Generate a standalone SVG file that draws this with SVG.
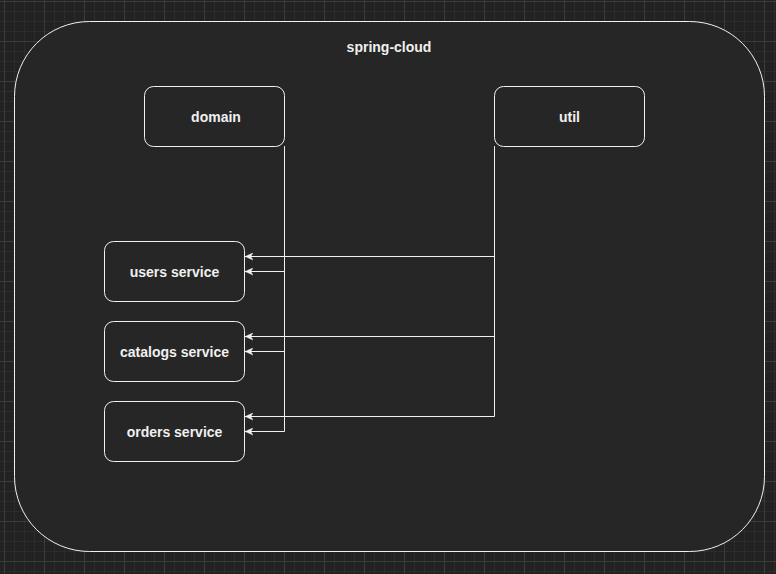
<svg xmlns="http://www.w3.org/2000/svg" width="776" height="574" viewBox="0 0 776 574">
<defs>
<pattern id="minor" x="4" y="1" width="10" height="10" patternUnits="userSpaceOnUse">
<path d="M0 0.5H10M0.5 0V10" fill="none" stroke="#2c2c2c" stroke-width="1"/>
</pattern>
<pattern id="major" x="4" y="1" width="40" height="40" patternUnits="userSpaceOnUse">
<path d="M0 0.5H40M0.5 0V40" fill="none" stroke="#3c3c3c" stroke-width="1"/>
</pattern>
<marker id="arr" viewBox="0 0 10 10" refX="10" refY="5" markerWidth="8" markerHeight="8" markerUnits="userSpaceOnUse" orient="auto">
<path d="M10 5L0 0.5L2.8 5L0 9.5Z" fill="#f0f0f0" stroke="#f0f0f0" stroke-width="0.5"/>
</marker>
<style>
.box{fill:#262626;stroke:#f0f0f0;stroke-width:1}
.lbl{font-family:"Liberation Sans",Arial,Helvetica,sans-serif;font-size:14px;font-weight:bold;fill:#f0f0f0;text-anchor:middle}
.edge{fill:none;stroke:#f0f0f0;stroke-width:1;marker-end:url(#arr)}
</style>
</defs>
<rect width="776" height="574" fill="#222222"/>
<rect width="776" height="574" fill="url(#minor)"/>
<rect width="776" height="574" fill="url(#major)"/>
<g id="spring-cloud">
<rect class="box" x="14.5" y="21.5" width="750" height="530" rx="75" ry="75"/>
<text class="lbl" x="389" y="52">spring-cloud</text>
</g>
<g id="domain">
<rect class="box" x="144.5" y="86.5" width="140" height="60" rx="9" ry="9"/>
<text class="lbl" x="216" y="122">domain</text>
</g>
<g id="util">
<rect class="box" x="494.5" y="86.5" width="150" height="60" rx="9" ry="9"/>
<text class="lbl" x="569.5" y="122">util</text>
</g>
<g id="users-service">
<rect class="box" x="104.5" y="241.5" width="140" height="60" rx="9" ry="9"/>
<text class="lbl" x="174.5" y="277">users service</text>
</g>
<g id="catalogs-service">
<rect class="box" x="104.5" y="321.5" width="140" height="60" rx="9" ry="9"/>
<text class="lbl" x="174.5" y="357">catalogs service</text>
</g>
<g id="orders-service">
<rect class="box" x="104.5" y="401.5" width="140" height="60" rx="9" ry="9"/>
<text class="lbl" x="174.5" y="437">orders service</text>
</g>
<g id="connectors">
<path class="edge" d="M284.5 146.5V271.5H245"/>
<path class="edge" d="M284.5 146.5V351.5H245"/>
<path class="edge" d="M284.5 146.5V431.5H245"/>
<path class="edge" d="M494.5 146.5V256.5H245"/>
<path class="edge" d="M494.5 146.5V336.5H245"/>
<path class="edge" d="M494.5 146.5V416.5H245"/>
</g>
</svg>
